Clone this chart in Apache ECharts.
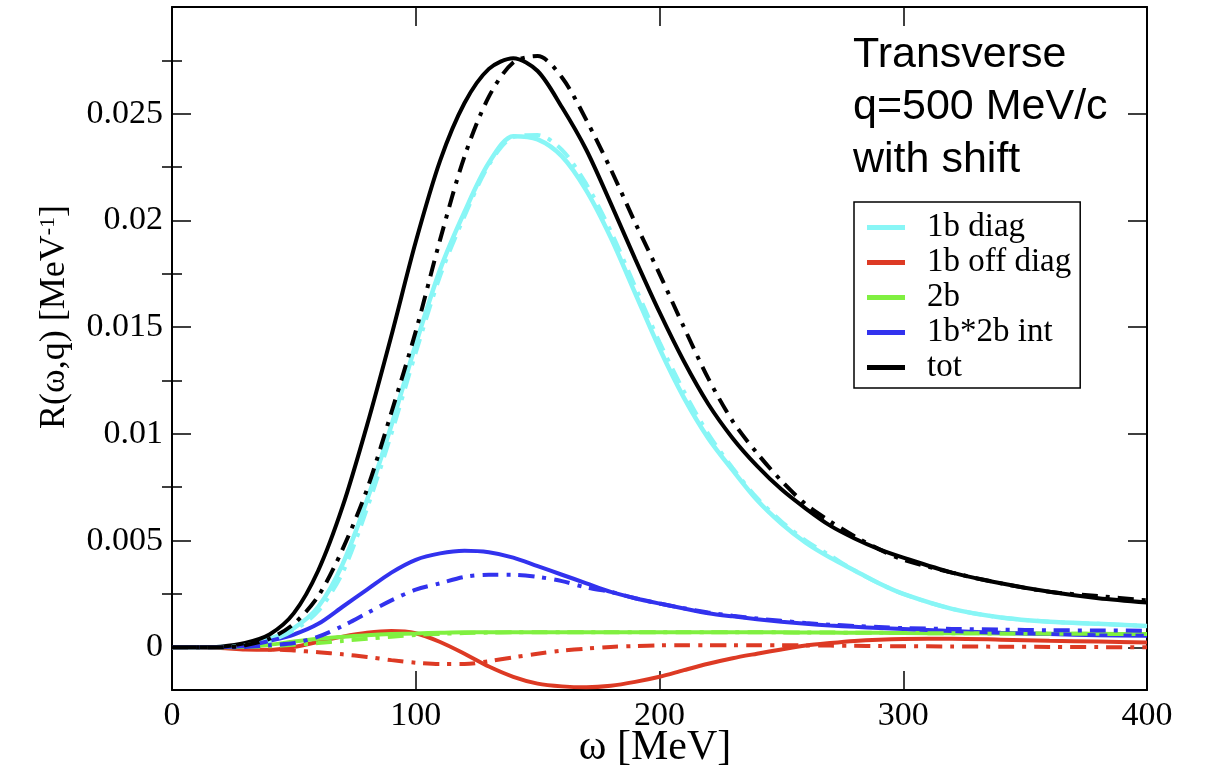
<!DOCTYPE html>
<html>
<head>
<meta charset="utf-8">
<script src="https://cdn.jsdelivr.net/npm/echarts@6/dist/echarts.min.js"></script>
<style>
html,body{margin:0;padding:0;background:#fff;}
#chart{width:1205px;height:770px;}
</style>
</head>
<body>
<div id="chart"></div>
<script>
// omega grid [MeV]
const omega = [0,10,20,30,40,50,60,70,80,90,100,110,120,130,140,150,160,170,180,190,200,210,220,230,240,250,260,270,280,290,300,320,340,360,380,400];

// solid curves
const diag1b = [0,0,0.00002,0.0001,0.0004,0.0009,0.0019,0.0039,0.0069,0.0104,0.0142,0.0177,0.0204,0.0227,0.02395,0.0238,0.0230,0.0214,0.0192,0.0166,0.0140,0.0117,0.0098,0.0083,0.0069,0.0058,0.0049,0.0042,0.0036,0.0030,0.0025,0.0018,0.0014,0.0012,0.0011,0.0010];
const offdiag1b = [0,0,-0.00003,-0.0001,-0.00012,0.00002,0.00026,0.0005,0.00068,0.00076,0.00066,0.00025,-0.0003,-0.0009,-0.00138,-0.0017,-0.00183,-0.00187,-0.0018,-0.00162,-0.00138,-0.00107,-0.00077,-0.00051,-0.0003,-0.0001,0.00008,0.0002,0.0003,0.00036,0.00039,0.0004,0.00036,0.00031,0.00027,0.00023];
const twob = [0,0,0,0.00003,0.00012,0.00027,0.0004,0.0005,0.00057,0.00062,0.00065,0.00068,0.0007,0.0007,0.0007,0.0007,0.0007,0.0007,0.0007,0.0007,0.0007,0.0007,0.0007,0.0007,0.0007,0.0007,0.00069,0.00069,0.00068,0.00068,0.00067,0.00066,0.00065,0.00064,0.00063,0.00062];
const int12 = [0,0,0.00001,0.00006,0.0003,0.0006,0.0011,0.0019,0.0027,0.0035,0.0041,0.0044,0.00452,0.00445,0.0042,0.0038,0.0034,0.0030,0.0026,0.0023,0.00205,0.00182,0.0016,0.00145,0.00132,0.0012,0.0011,0.00102,0.00096,0.0009,0.00086,0.00076,0.00068,0.00062,0.00057,0.00054];
const tot = [0,0,0.00003,0.0002,0.0006,0.0016,0.0036,0.0066,0.0104,0.0146,0.0190,0.0228,0.0255,0.0271,0.0276,0.0270,0.0253,0.0233,0.0208,0.0182,0.0157,0.0134,0.0114,0.0098,0.0085,0.0074,0.0065,0.0057,0.0051,0.0046,0.0042,0.0035,0.0030,0.0026,0.0023,0.0021];

// dash-dot curves
const diag1bDD = [0,0,0,0.0001,0.0003,0.0008,0.0017,0.0035,0.0065,0.0100,0.0138,0.0174,0.0202,0.0226,0.0239,0.0240,0.0233,0.0217,0.0195,0.0169,0.0143,0.0120,0.0100,0.0084,0.0070,0.0059,0.0050,0.0043,0.0036,0.0030,0.0025,0.0018,0.0014,0.0012,0.0011,0.0010];
const offdiag1bDD = [0,0,0,-0.00005,-0.0001,-0.00015,-0.00023,-0.00033,-0.00045,-0.0006,-0.00072,-0.00078,-0.00078,-0.00065,-0.00047,-0.0003,-0.00016,-0.00006,0.00002,0.00006,0.00009,0.0001,0.0001,0.0001,0.0001,0.0001,0.00009,0.00008,0.00007,0.00006,0.00005,0.00004,0.00003,0.00002,0.00001,0];
const twobDD = [0,0,0,0.00001,0.00005,0.00012,0.0002,0.0003,0.0004,0.0005,0.00058,0.00063,0.00067,0.00069,0.0007,0.0007,0.0007,0.0007,0.0007,0.0007,0.0007,0.0007,0.0007,0.0007,0.0007,0.0007,0.00069,0.00069,0.00068,0.00068,0.00067,0.00066,0.00065,0.00064,0.00063,0.00062];
const int12DD = [0,0,0,0.00002,0.0001,0.0002,0.0005,0.0010,0.0016,0.0022,0.0027,0.0030,0.0033,0.0034,0.0034,0.0033,0.0031,0.0028,0.0026,0.0023,0.00205,0.00183,0.00163,0.00148,0.00135,0.00124,0.00114,0.00106,0.001,0.00095,0.0009,0.00086,0.00083,0.0008,0.00079,0.00078];
const totDD = [0,0,0,0.0001,0.0004,0.0011,0.0024,0.0046,0.0074,0.0110,0.0148,0.0191,0.0230,0.0258,0.0274,0.0277,0.0267,0.0247,0.0224,0.0199,0.0175,0.0150,0.0126,0.0106,0.0091,0.0078,0.0067,0.0059,0.0052,0.0046,0.0041,0.0035,0.0030,0.0026,0.0024,0.0022];

const names = ['1b diag','1b off diag','2b','1b*2b int','tot'];
const colors = ['#88f6f6','#dd3a24','#80f040','#3232ee','#000000'];
const yMajor = [0,0.005,0.01,0.015,0.02,0.025];
const yMinor = [0.0025,0.0075,0.0125,0.0175,0.0225,0.0275];

const SERIF = '"Liberation Serif", "Times New Roman", serif';
const SANS = '"Liberation Sans", Arial, sans-serif';

const solids = [diag1b, offdiag1b, twob, int12, tot];
const dds = [diag1bDD, offdiag1bDD, twobDD, int12DD, totDD];
const pair = arr => omega.map((w,i)=>[w, arr[i]]);

const series = [];
solids.forEach((arr,k)=>{
  series.push({name:names[k], type:'line', data:pair(arr), showSymbol:false, smooth:0.3,
    color:colors[k], lineStyle:{color:colors[k], width:k===0?4.5:4}, z:2+k});
});
dds.forEach((arr,k)=>{
  series.push({name:names[k]+' (alt)', type:'line', data:pair(arr), showSymbol:false, smooth:0.3,
    color:colors[k], lineStyle:{color:colors[k], width:4, type:[16,8,4,8]}, z:8+k});
});

const axLine = {show:true, onZero:false, lineStyle:{color:'#000', width:2}};
const yBase = {type:'value', min:-0.002, max:0.03, splitLine:{show:false}};

const chart = echarts.init(document.getElementById('chart'), null, {renderer:'canvas'});
chart.setOption({
  animation:false,
  backgroundColor:'#fff',
  grid:{left:172, top:7, right:58, bottom:80, containLabel:false, outerBoundsMode:'none'},
  xAxis:[
    {type:'value', min:0, max:400, interval:100, position:'bottom',
     axisLine:axLine, axisTick:{inside:true, length:19, lineStyle:{color:'#000', width:1.5}},
     axisLabel:{fontFamily:SERIF, fontSize:34, color:'#000', margin:9},
     splitLine:{show:false}},
    {type:'value', min:0, max:400, interval:100, position:'top',
     axisLine:axLine, axisTick:{inside:true, length:19, lineStyle:{color:'#000', width:1.5}},
     axisLabel:{show:false}, splitLine:{show:false}}
  ],
  yAxis:[
    Object.assign({}, yBase, {position:'left', axisLine:axLine,
      axisTick:{inside:true, length:19, customValues:yMajor, lineStyle:{color:'#000', width:1.5}},
      axisLabel:{customValues:yMajor, fontFamily:SERIF, fontSize:34, color:'#000', margin:9}}),
    Object.assign({}, yBase, {position:'left', axisLine:{show:false},
      axisTick:{inside:true, length:10, customValues:yMinor, lineStyle:{color:'#000', width:1.5}},
      axisLabel:{show:false}}),
    Object.assign({}, yBase, {position:'right', axisLine:axLine,
      axisTick:{inside:true, length:19, customValues:yMajor, lineStyle:{color:'#000', width:1.5}},
      axisLabel:{show:false}}),
    Object.assign({}, yBase, {position:'right', axisLine:{show:false},
      axisTick:{inside:true, length:10, customValues:yMinor, lineStyle:{color:'#000', width:1.5}},
      axisLabel:{show:false}})
  ],
  legend:{
    data:names, orient:'vertical', left:854, top:202,
    icon:'rect', itemWidth:38, itemHeight:5, itemGap:0,
    padding:[8,9,3,13], borderColor:'#000', borderWidth:1.5, backgroundColor:'#fff',
    selectedMode:false,
    textStyle:{fontFamily:SERIF, fontSize:33, color:'#000', lineHeight:35, padding:[0,0,0,17]}
  },
  graphic:[
    {type:'text', x:853, y:55, style:{text:'Transverse', font:'43px '+SANS, fill:'#000', verticalAlign:'middle', textVerticalAlign:'middle'}},
    {type:'text', x:853, y:107, style:{text:'q=500 MeV/c', font:'43px '+SANS, fill:'#000', verticalAlign:'middle', textVerticalAlign:'middle'}},
    {type:'text', x:853, y:160, style:{text:'with shift', font:'43px '+SANS, fill:'#000', verticalAlign:'middle', textVerticalAlign:'middle'}},
    {type:'text', x:655, y:748,
     style:{text:'ω [MeV]', font:'42px '+SERIF, fill:'#000', align:'center', verticalAlign:'middle', textAlign:'center', textVerticalAlign:'middle'}},
    {type:'text', x:55, y:317, rotation:Math.PI/2,
     style:{text:'{n|R(ω,q) [MeV}{s|-1}{n|]}', align:'center', verticalAlign:'middle',
       rich:{n:{fontFamily:SERIF, fontSize:36, fill:'#000', color:'#000'},
             s:{fontFamily:SERIF, fontSize:22, fill:'#000', color:'#000', verticalAlign:'top'}}}}
  ],
  series:series
});
</script>
</body>
</html>
